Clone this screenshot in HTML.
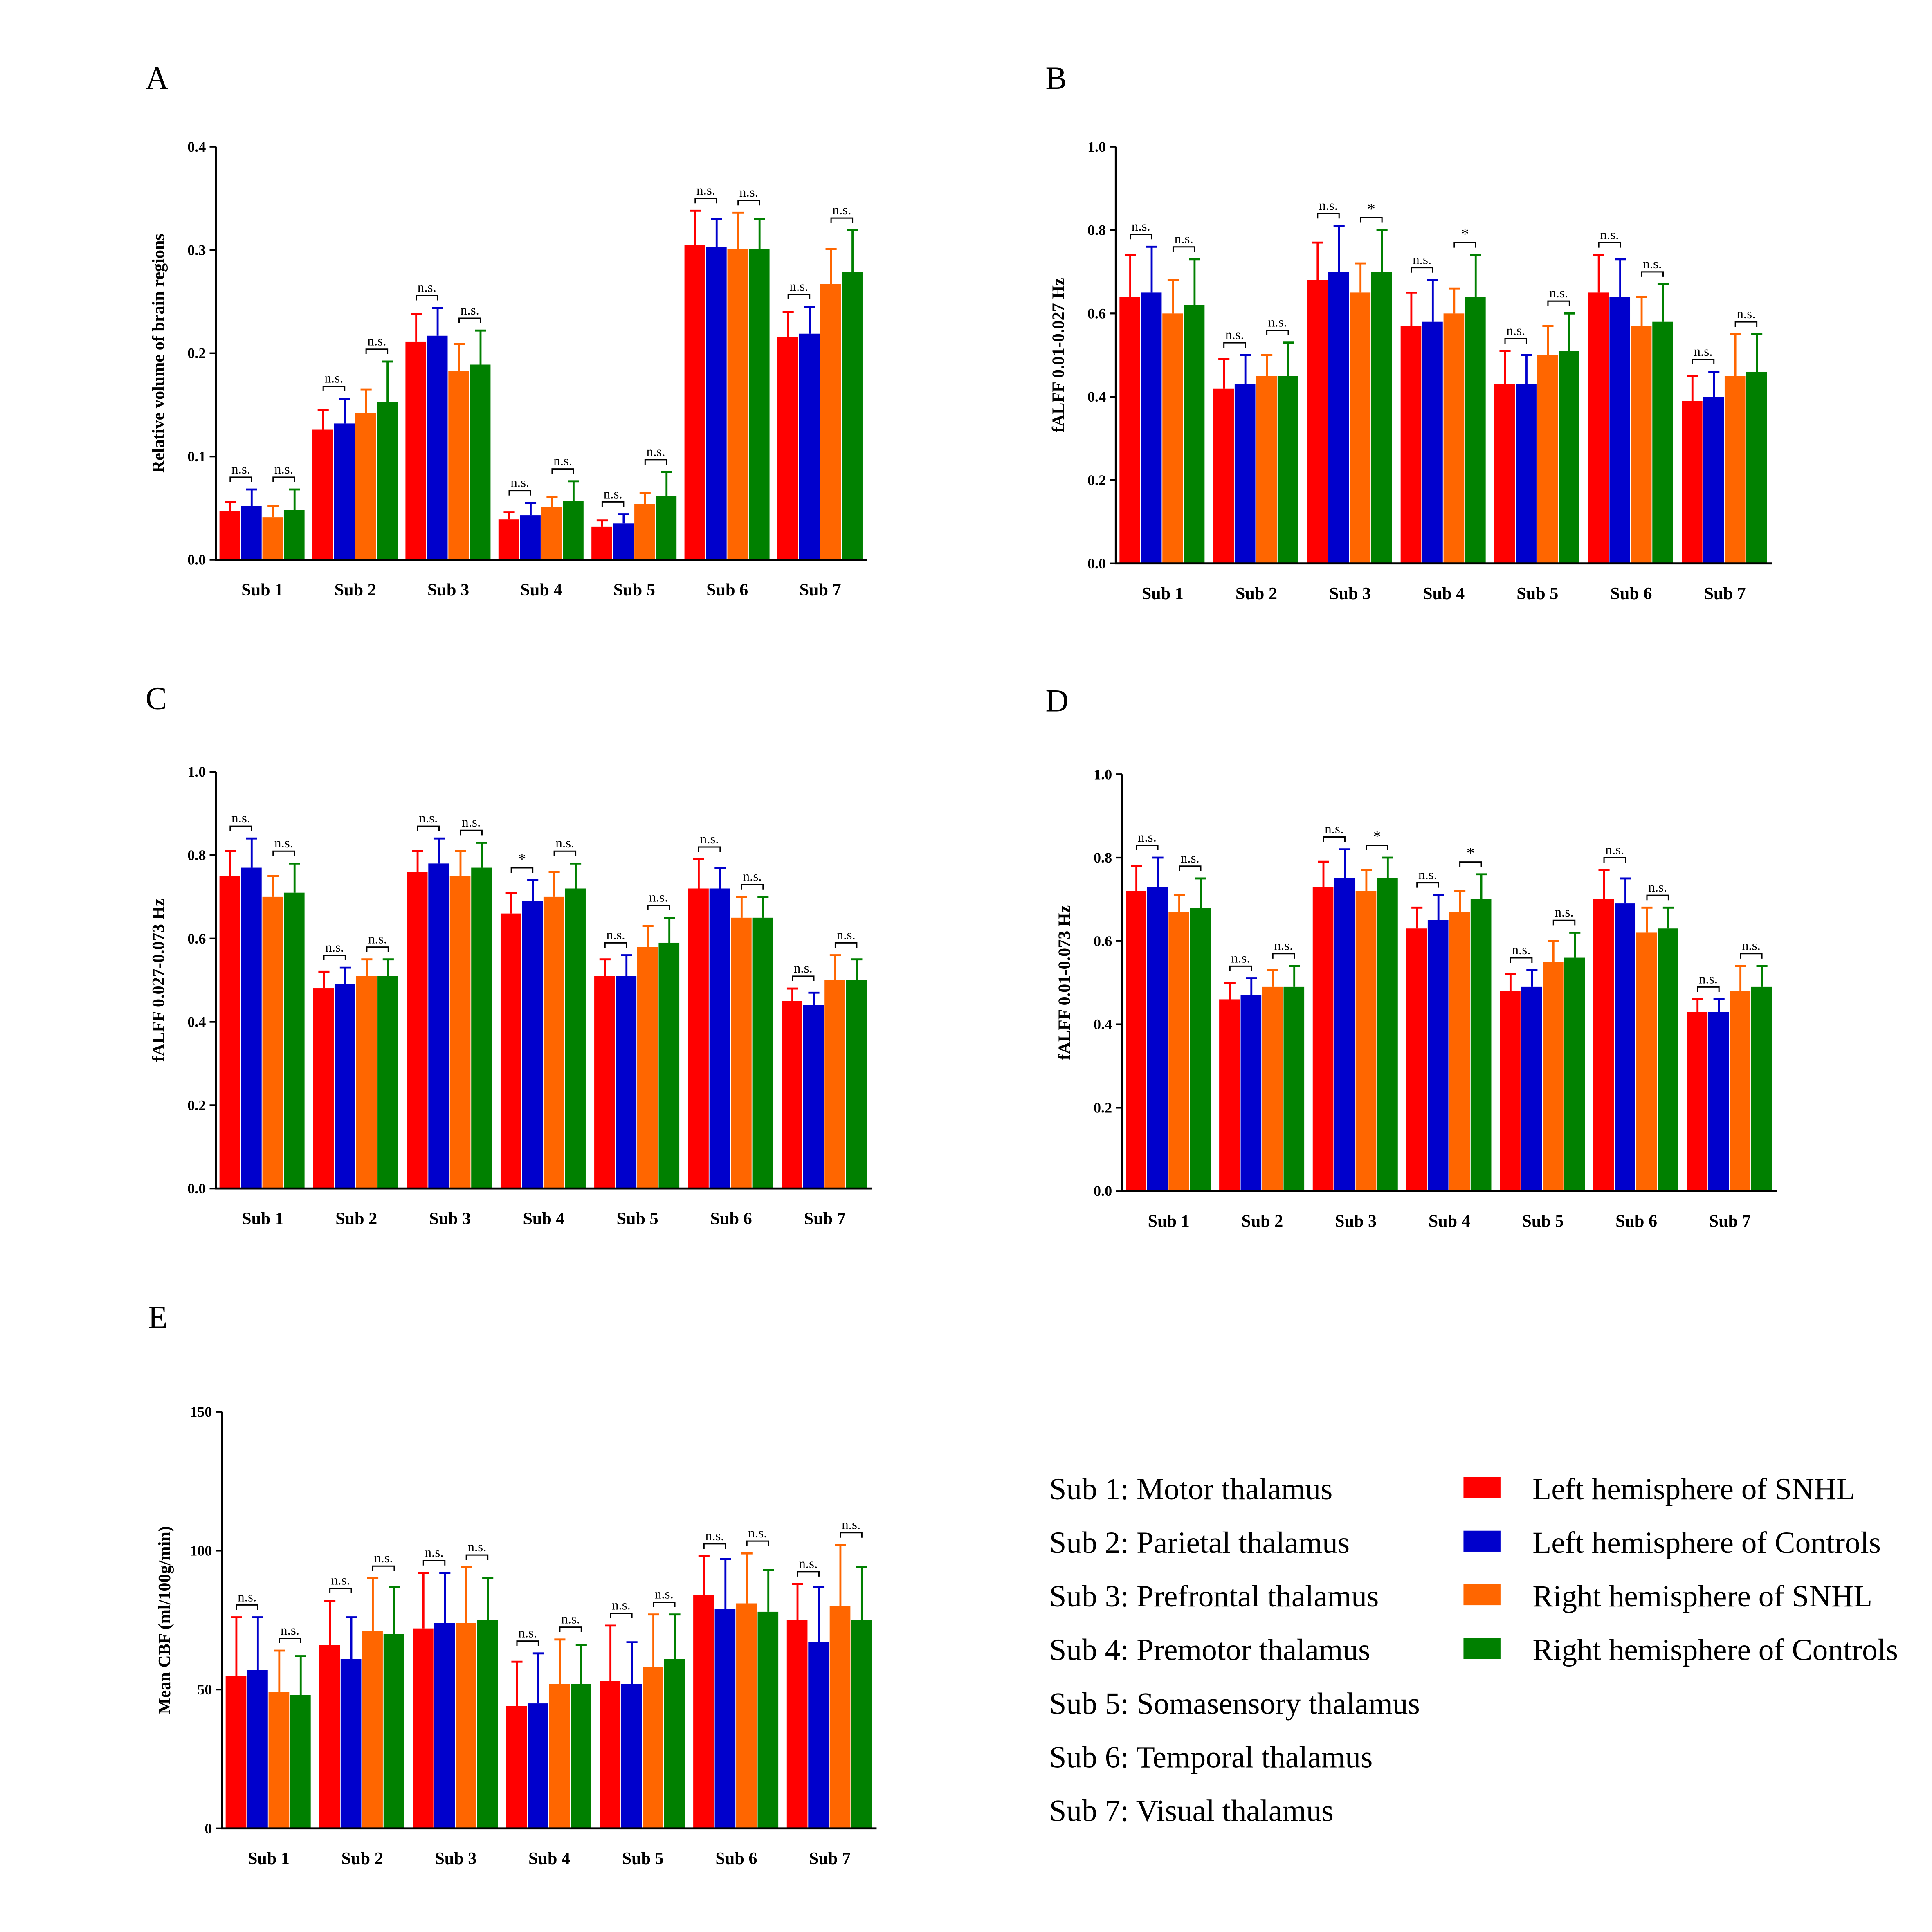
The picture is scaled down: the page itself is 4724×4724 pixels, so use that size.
<!DOCTYPE html>
<html><head><meta charset="utf-8"><style>
html,body{margin:0;padding:0;background:#fff}
svg{display:block}
text{font-family:"Liberation Serif",serif}
</style></head><body>
<svg id="fig" width="4724" height="4724" viewBox="0 0 1567 1567" xmlns="http://www.w3.org/2000/svg">
<g id="legend"></g>
</svg>
<script>
const categories = ["Sub 1","Sub 2","Sub 3","Sub 4","Sub 5","Sub 6","Sub 7"];
const seriesNames = ["Left hemisphere of SNHL","Left hemisphere of Controls","Right hemisphere of SNHL","Right hemisphere of Controls"];
const seriesColors = ["#ff0000","#0000cc","#ff6600","#008000"];
const regionNames = ["Sub 1: Motor thalamus","Sub 2: Parietal thalamus","Sub 3: Prefrontal thalamus","Sub 4: Premotor thalamus","Sub 5: Somasensory thalamus","Sub 6: Temporal thalamus","Sub 7: Visual thalamus"];

const aMean = [[.047,.126,.211,.039,.032,.305,.216],[.052,.132,.217,.043,.035,.303,.219],[.041,.142,.183,.051,.054,.301,.267],[.048,.153,.189,.057,.062,.301,.279]];
const aTop  = [[.056,.145,.238,.046,.038,.338,.240],[.068,.156,.244,.055,.044,.330,.245],[.052,.165,.209,.061,.065,.336,.301],[.068,.192,.222,.076,.085,.330,.319]];
const aSig  = [["n.s.","n.s."],["n.s.","n.s."],["n.s.","n.s."],["n.s.","n.s."],["n.s.","n.s."],["n.s.","n.s."],["n.s.","n.s."]];
const aTicks = [0,0.1,0.2,0.3,0.4];
const aTickLabels = ["0.0","0.1","0.2","0.3","0.4"];

const bMean = [[.64,.42,.68,.57,.43,.65,.39],[.65,.43,.70,.58,.43,.64,.40],[.60,.45,.65,.60,.50,.57,.45],[.62,.45,.70,.64,.51,.58,.46]];
const bTop  = [[.74,.49,.77,.65,.51,.74,.45],[.76,.50,.81,.68,.50,.73,.46],[.68,.50,.72,.66,.57,.64,.55],[.73,.53,.80,.74,.60,.67,.55]];
const bSig  = [["n.s.","n.s."],["n.s.","n.s."],["n.s.","*"],["n.s.","*"],["n.s.","n.s."],["n.s.","n.s."],["n.s.","n.s."]];

const cMean = [[.75,.48,.76,.66,.51,.72,.45],[.77,.49,.78,.69,.51,.72,.44],[.70,.51,.75,.70,.58,.65,.50],[.71,.51,.77,.72,.59,.65,.50]];
const cTop  = [[.81,.52,.81,.71,.55,.79,.48],[.84,.53,.84,.74,.56,.77,.47],[.75,.55,.81,.76,.63,.70,.56],[.78,.55,.83,.78,.65,.70,.55]];
const cSig  = [["n.s.","n.s."],["n.s.","n.s."],["n.s.","n.s."],["*","n.s."],["n.s.","n.s."],["n.s.","n.s."],["n.s.","n.s."]];

const dMean = [[.72,.46,.73,.63,.48,.70,.43],[.73,.47,.75,.65,.49,.69,.43],[.67,.49,.72,.67,.55,.62,.48],[.68,.49,.75,.70,.56,.63,.49]];
const dTop  = [[.78,.50,.79,.68,.52,.77,.46],[.80,.51,.82,.71,.53,.75,.46],[.71,.53,.77,.72,.60,.68,.54],[.75,.54,.80,.76,.62,.68,.54]];
const dSig  = [["n.s.","n.s."],["n.s.","n.s."],["n.s.","*"],["n.s.","*"],["n.s.","n.s."],["n.s.","n.s."],["n.s.","n.s."]];
const fTicks = [0,0.2,0.4,0.6,0.8,1.0];
const fTickLabels = ["0.0","0.2","0.4","0.6","0.8","1.0"];

const eMean = [[55,66,72,44,53,84,75],[57,61,74,45,52,79,67],[49,71,74,52,58,81,80],[48,70,75,52,61,78,75]];
const eTop  = [[76,82,92,60,73,98,88],[76,76,92,63,67,97,87],[64,90,94,68,77,99,102],[62,87,90,66,77,93,94]];
const eSig  = [["n.s.","n.s."],["n.s.","n.s."],["n.s.","n.s."],["n.s.","n.s."],["n.s.","n.s."],["n.s.","n.s."],["n.s.","n.s."]];
const eTicks = [0,50,100,150];
const eTickLabels = ["0","50","100","150"];

const NS="http://www.w3.org/2000/svg";
const svg=document.getElementById('fig');
function mk(tag,attrs,parent,txt){const e=document.createElementNS(NS,tag);for(const k in attrs)e.setAttribute(k,attrs[k]);if(txt!==undefined)e.textContent=txt;(parent||svg).appendChild(e);return e;}

function panel(id,letter,lx,ly,x0,x1,yTop,yBot,ymax,ticks,tickLabels,title,mean,top,sig){
  const g=mk('g',{});
  
  
  const yS=v=>yBot-(v/ymax)*(yBot-yTop);
  const gw=(x1-x0)/7, bw=17.4, off=3;
  const L=mk('text',{x:lx,y:ly,'font-size':26,fill:'#000'},g,letter);
  
  
  for(let i=0;i<7;i++){
    const xs=[];
    for(let s=0;s<4;s++){
      const bx=x0+i*gw+off+s*bw, cx=bx+bw/2;
      xs.push(cx);
      const r=mk('rect',{x:bx,y:yS(mean[s][i]),width:bw-0.6,height:yBot-yS(mean[s][i]),fill:seriesColors[s]},g);
      
      
      const e=mk('path',{d:`M${cx},${yS(mean[s][i])}V${yS(top[s][i])}M${cx-4.5},${yS(top[s][i])}H${cx+4.5}`,stroke:seriesColors[s],'stroke-width':1.6,fill:'none'},g);
      
      
    }
    for(let p=0;p<2;p++){
      const a=xs[p*2],b=xs[p*2+1];
      const yy=Math.min(yS(top[p*2][i]),yS(top[p*2+1][i]))-10;
      const br=mk('path',{d:`M${a},${yy+4}V${yy}H${b}V${yy+4}`,stroke:'#000','stroke-width':1,fill:'none'},g);
      
      
      const st=mk('text',{x:(a+b)/2,y:yy-3,'font-size':sig[i][p]==='*'?13:11,'text-anchor':'middle'},g,sig[i][p]);
      
      
    }
    const cl=mk('text',{x:x0+i*gw+gw/2,y:yBot+29,'font-size':14,'font-weight':'bold','text-anchor':'middle'},g,categories[i]);
    
    
  }
  const ax=mk('path',{d:`M${x0},${yTop}V${yBot}H${x1}`,stroke:'#000','stroke-width':1.6,fill:'none'},g);
  
  
  ticks.forEach((t,k)=>{
    mk('path',{d:`M${x0-5},${yS(t)}H${x0}`,stroke:'#000','stroke-width':1.4},g);
    const tl=mk('text',{x:x0-8,y:yS(t)+4,'font-size':12,'font-weight':'bold','text-anchor':'end'},g,tickLabels[k]);
    
    
  });
  const yc=(yTop+yBot)/2;
  const yt=mk('text',{x:x0-42,y:yc,'font-size':14,'font-weight':'bold','text-anchor':'middle',transform:`rotate(-90 ${x0-42} ${yc})`},g,title);
  
  
}
panel('a','A',118,72,175,703,119,454,0.4,aTicks,aTickLabels,'Relative volume of brain regions',aMean,aTop,aSig);
panel('b','B',848,72,905,1437,119,457,1.0,fTicks,fTickLabels,'fALFF 0.01-0.027 Hz',bMean,bTop,bSig);
panel('c','C',118,575,175,707,626,964,1.0,fTicks,fTickLabels,'fALFF 0.027-0.073 Hz',cMean,cTop,cSig);
panel('d','D',848,577,910,1441,628,966,1.0,fTicks,fTickLabels,'fALFF 0.01-0.073 Hz',dMean,dTop,dSig);
panel('e','E',120,1077,180,711,1145,1483,150,eTicks,eTickLabels,'Mean CBF (ml/100g/min)',eMean,eTop,eSig);

const lg=document.getElementById('legend');
regionNames.forEach((n,i)=>{
  const t=mk('text',{x:851,y:1216+i*43.5,'font-size':25},lg,n);
  
  
});
seriesNames.forEach((n,i)=>{
  const r=mk('rect',{x:1187,y:1198+i*43.5,width:30,height:17,fill:seriesColors[i]},lg);
  
  
  const t=mk('text',{x:1243,y:1216+i*43.5,'font-size':25},lg,n);
  
  
});
</script>
</body></html>
